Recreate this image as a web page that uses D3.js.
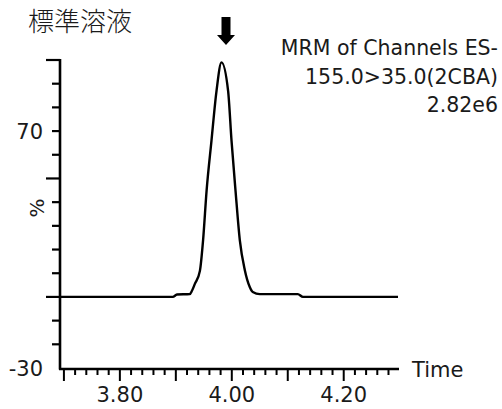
<!DOCTYPE html>
<html>
<head>
<meta charset="utf-8">
<script src="https://cdn.jsdelivr.net/npm/d3@7/dist/d3.min.js"></script>
<style>
  body { margin: 0; background: #fff; }
  svg text { font-family: "DejaVu Sans", Verdana, sans-serif; fill: #1a1a1a; }
</style>
</head>
<body>
<div id="chart"></div>
<script>
// Chromatogram trace (retention time in min, relative intensity %)
var times = [3.693, 3.80, 3.8946, 3.902, 3.925, 3.9286, 3.934, 3.943, 3.9487, 3.955, 3.9637, 3.9727, 3.9816,
             3.9934, 3.9995, 4.0066, 4.0143, 4.0232, 4.0321, 4.0375, 4.05, 4.118, 4.127, 4.20, 4.297];
var intensity = [0, 0, 0, 1.0, 1.2, 2.5, 5.5, 11, 24, 45, 66, 87, 99,
                 87, 66, 45, 24, 11.4, 4.2, 2.1, 1.2, 1.2, 0, 0, 0];

var xLabelTicks = [3.80, 4.00, 4.20];
var yLabelTicks = [70, -30];
var yLongTicks = [0, 50, 100];
var titleText = "標準溶液";
var infoLines = ["MRM of Channels ES-", "155.0>35.0(2CBA)", "2.82e6"];

var svgWidth = 502;
var svgHeight = 409;

var svg = d3.select("#chart")
  .append("svg")
  .attr("width", svgWidth)
  .attr("height", svgHeight);

// scales (pixel ranges)
var x = d3.scaleLinear().domain([3.693, 4.297]).range([60, 398]);
var y = d3.scaleLinear().domain([-30, 100]).range([368, 60]);

// y axis: minor ticks every 10, long ticks at 0/50/100
var yMinor = d3.range(-20, 101, 10);
svg.selectAll(".ytick")
  .data(yMinor)
  .enter()
  .append("line")
  .attr("x1", function(d) { return yLongTicks.indexOf(d) >= 0 ? 46 : 52; })
  .attr("x2", 60)
  .attr("y1", function(d) { return y(d); })
  .attr("y2", function(d) { return y(d); })
  .attr("stroke", "#000")
  .attr("stroke-width", 2.2);

svg.append("line")
  .attr("x1", 60).attr("x2", 60)
  .attr("y1", y(100) - 1).attr("y2", y(-30) + 1.5)
  .attr("stroke", "#000").attr("stroke-width", 2.6);

svg.selectAll(".ylabel")
  .data(yLabelTicks)
  .enter()
  .append("text")
  .attr("x", 43)
  .attr("y", function(d) { return y(d) + 7.5; })
  .attr("text-anchor", "end")
  .style("font-size", "21px")
  .text(function(d) { return d; });

svg.append("text")
  .attr("transform", "translate(44,208) rotate(-90)")
  .attr("text-anchor", "middle")
  .style("font-size", "20px")
  .text("%");

// x axis: minor ticks every 0.02, longer every 0.1
var xMinor = d3.range(0, 30).map(function(i) { return +(3.70 + i * 0.02).toFixed(2); });
svg.selectAll(".xtick")
  .data(xMinor)
  .enter()
  .append("line")
  .attr("x1", function(d) { return x(d); })
  .attr("x2", function(d) { return x(d); })
  .attr("y1", 369)
  .attr("y2", function(d) { return Math.abs(d * 10 - Math.round(d * 10)) < 1e-6 ? 381 : 375; })
  .attr("stroke", "#000")
  .attr("stroke-width", 2);

svg.append("line")
  .attr("x1", 59).attr("x2", 399)
  .attr("y1", 369).attr("y2", 369)
  .attr("stroke", "#000").attr("stroke-width", 2.6);

svg.selectAll(".xlabel")
  .data(xLabelTicks)
  .enter()
  .append("text")
  .attr("x", function(d) { return x(d); })
  .attr("y", 402)
  .attr("text-anchor", "middle")
  .style("font-size", "21px")
  .text(function(d) { return d.toFixed(2); });

svg.append("text")
  .attr("x", 412).attr("y", 377)
  .style("font-size", "21px")
  .text("Time");

// trace
var line = d3.line()
  .x(function(d, i) { return x(times[i]); })
  .y(function(d) { return y(d); })
  .curve(d3.curveMonotoneX);

svg.append("path")
  .datum(intensity)
  .attr("d", line)
  .attr("fill", "none")
  .attr("stroke", "#000")
  .attr("stroke-width", 2.4);

// arrow over the peak
var ax = 226;
svg.append("path")
  .attr("d", "M" + (ax - 4.5) + ",17 L" + (ax + 4.5) + ",17 L" + (ax + 4.5) + ",35 L" + (ax + 9) + ",35 L" + ax +
        ",45 L" + (ax - 9) + ",35 L" + (ax - 4.5) + ",35 Z")
  .attr("fill", "#000");

// title and channel info
svg.append("text")
  .attr("x", 28).attr("y", 31)
  .style("font-family", "'Noto Sans CJK JP', sans-serif")
  .style("font-size", "26px")
  .style("font-weight", "300")
  .text(titleText);

svg.selectAll(".info")
  .data(infoLines)
  .enter()
  .append("text")
  .attr("x", 498)
  .attr("y", function(d, i) { return 55 + i * 28.5; })
  .attr("text-anchor", "end")
  .style("font-size", "20.5px")
  .text(function(d) { return d; });
</script>
</body>
</html>
